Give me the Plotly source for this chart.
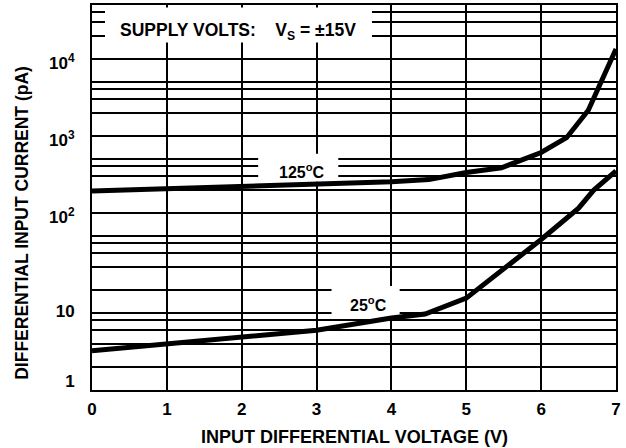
import numpy as np
import plotly.graph_objects as go

# ---- data ----
VOLTS_125 = [0, 1, 2, 3, 4, 4.5, 5, 5.47, 6, 6.34, 6.63, 7.0]
CURRENT_125 = [192, 204, 217, 232, 254, 270, 333, 384, 608, 946, 2150, 13400]

VOLTS_25 = [0, 1, 2, 3, 4, 4.45, 5, 6, 6.5, 6.7, 7.0]
CURRENT_25 = [1.62, 1.98, 2.43, 2.98, 4.3, 4.85, 7.8, 45, 115, 196, 350]

X_TICKS = [0, 1, 2, 3, 4, 5, 6, 7]
Y_TICK_VALUES = [0.65, 5.3, 87, 870, 8700]
Y_TICK_LABELS = ["1", "10", "10<sup>2</sup>", "10<sup>3</sup>", "10<sup>4</sup>"]
Y_GRID_MANTISSAS = [1, 2, 3, 4, 5]
Y_GRID_EXPONENTS = [-1, 0, 1, 2, 3, 4]
Y_MIN, Y_MAX = 0.5, 50000

LABEL_125 = "125<sup>o</sup>C"
LABEL_25 = "25<sup>o</sup>C"
SUPPLY_TEXT = "SUPPLY VOLTS:\u00a0\u00a0\u00a0 V<sub>S</sub> = \u00b115V"
X_TITLE = "INPUT DIFFERENTIAL VOLTAGE (V)"
Y_TITLE = "DIFFERENTIAL INPUT CURRENT (pA)"

grid_vals = [m * 10 ** e for e in Y_GRID_EXPONENTS for m in Y_GRID_MANTISSAS
             if Y_MIN <= m * 10 ** e <= Y_MAX]

FONT = "Liberation Sans, Arial, Helvetica, sans-serif"


def bold(t):
    return "<b>" + t + "</b>"


fig = go.Figure()
fig.add_trace(go.Scatter(x=VOLTS_125, y=CURRENT_125, mode="lines",
                         line=dict(color="black", width=5), showlegend=False,
                         hoverinfo="skip"))
fig.add_trace(go.Scatter(x=VOLTS_25, y=CURRENT_25, mode="lines",
                         line=dict(color="black", width=5), showlegend=False,
                         hoverinfo="skip"))

# white label boxes that interrupt the grid (drawn between grid and traces)
boxes = [
    (0.174, 3.74, 16300, 46400),   # supply box
    (2.22, 3.29, 253, 586),        # 125C
    (3.20, 4.11, 4.46, 11.2),      # 25C
]
for x0, x1, y0, y1 in boxes:
    fig.add_shape(type="rect", xref="x", yref="y", x0=x0, x1=x1, y0=y0, y1=y1,
                  fillcolor="white", line=dict(width=0), layer="between")

annos = [
    (1.945, 22500, SUPPLY_TEXT, 17.5),
    (2.80, 345, LABEL_125, 16),
    (3.69, 6.56, LABEL_25, 16),
]
for x, y, t, s in annos:
    fig.add_annotation(x=x, y=np.log10(y), xref="x", yref="y", text=bold(t),
                       showarrow=False,
                       font=dict(family=FONT, size=s, color="black"))

# axis titles as annotations for exact placement
fig.add_annotation(x=-0.135, y=0.435, xref="paper", yref="paper",
                   text=bold(Y_TITLE), textangle=-90,
                   showarrow=False, xanchor="center", yanchor="middle",
                   font=dict(family=FONT, size=17.5, color="black"))
fig.add_annotation(x=0.5, y=-0.122, xref="paper", yref="paper",
                   text=bold(X_TITLE),
                   showarrow=False, xanchor="center", yanchor="middle",
                   font=dict(family=FONT, size=18, color="black"))

fig.update_xaxes(
    range=[0, 7], tickvals=X_TICKS, ticktext=[bold(str(v)) for v in X_TICKS],
    showgrid=True, gridcolor="black", gridwidth=2, zeroline=False,
    showline=True, linecolor="black", linewidth=2, mirror=True,
    ticks="", ticklabelstandoff=3, automargin=False,
    tickfont=dict(family=FONT, size=17, color="black"),
)
fig.update_yaxes(
    type="log", range=[np.log10(Y_MIN), np.log10(Y_MAX)],
    tickmode="array", tickvals=Y_TICK_VALUES,
    ticktext=[bold(t) for t in Y_TICK_LABELS],
    showgrid=False, zeroline=False,
    showline=True, linecolor="black", linewidth=2, mirror=True,
    ticks="", ticklabelstandoff=12, automargin=False,
    tickfont=dict(family=FONT, size=17, color="black"),
    minor=dict(tickmode="array", tickvals=grid_vals, showgrid=True,
               gridcolor="black", gridwidth=2, ticks=""),
)

fig.update_layout(
    width=626, height=448,
    margin=dict(l=92, r=10, t=5, b=58, autoexpand=False),
    paper_bgcolor="white", plot_bgcolor="white",
    font=dict(family=FONT, color="black"),
)

fig.write_html("out.html", config={"displayModeBar": False},
               post_script="document.body.style.margin='0px';")
